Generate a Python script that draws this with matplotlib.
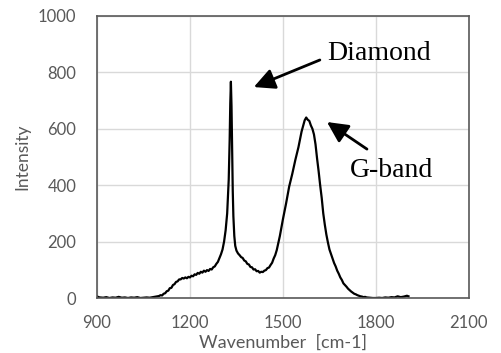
import matplotlib
matplotlib.use('Agg')
import matplotlib.pyplot as plt

# Raman spectrum
wavenumber = [900, 905, 910, 920, 930, 940, 950, 960, 970, 980, 990, 1000,
              1010, 1020, 1030, 1040, 1050, 1060, 1070, 1080, 1090,
              1100, 1105, 1110, 1115, 1120, 1125, 1130, 1135, 1140, 1145,
              1150, 1155, 1160, 1165, 1170, 1175, 1180, 1185, 1190, 1195,
              1200, 1205, 1210, 1215, 1220, 1225, 1230, 1235, 1240, 1245,
              1250, 1255, 1260, 1265, 1270, 1275, 1280, 1285, 1290, 1295,
              1300, 1305, 1310, 1315, 1320, 1325, 1328, 1330, 1332, 1334,
              1336, 1338, 1340, 1343, 1346,
              1350, 1355, 1360, 1365, 1370, 1375, 1380, 1385, 1390, 1395,
              1400, 1405, 1410, 1415, 1420, 1425, 1430, 1435, 1440, 1445,
              1450, 1455, 1460, 1465, 1470, 1475, 1480, 1490,
              1500, 1510, 1520, 1530, 1540, 1550, 1560, 1565, 1570, 1575,
              1580, 1585, 1590, 1595, 1600, 1605, 1610, 1615, 1620, 1625,
              1630, 1635, 1640, 1645, 1650, 1655, 1660, 1665, 1670, 1675,
              1680, 1685, 1690, 1695, 1700, 1705, 1710, 1715, 1720, 1725,
              1730, 1735, 1740, 1745, 1750, 1755, 1760, 1765, 1770, 1780,
              1790, 1800, 1810, 1820, 1830, 1840, 1850, 1860, 1870, 1880,
              1890, 1900, 1905]
intensity = [6, 3, 2, 1, 3, 0, 2, 1, 4, 1, 2, 0,
             2, 1, 3, 0, 1, 2, 1, 3, 5,
             7, 10, 9, 15, 17, 24, 26, 35, 36, 46,
             49, 57, 59, 66, 66, 71, 69, 73, 70, 75,
             73, 79, 77, 84, 82, 89, 86, 93, 90, 97,
             93, 99, 96, 103, 101, 109, 112, 121, 128, 142,
             155, 172, 200, 240, 300, 420, 560, 690, 767, 680,
             520, 380, 290, 220, 185,
             168, 158, 152, 145, 142, 133, 130, 121, 119, 110,
             109, 101, 102, 95, 96, 90, 93, 92, 97, 99,
             106, 108, 117, 125, 140, 152, 170, 220,
             280, 335, 395, 440, 490, 535, 590, 610, 630, 640,
             632, 628, 612, 600, 580, 545, 495, 450, 400, 355,
             300, 260, 225, 197, 172, 156, 140, 124, 112, 97,
             86, 73, 64, 52, 46, 40, 33, 28, 23, 19,
             15, 13, 10, 8, 6, 5, 3, 4, 2, 1,
             0, 0, 1, 0, 2, 1, 3, 2, 6, 3,
             5, 8, 6]

xticks = [900, 1200, 1500, 1800, 2100]
yticks = [0, 200, 400, 600, 800, 1000]

fig = plt.figure(figsize=(5.01, 3.53), dpi=100)
ax = fig.add_axes([0.1936, 0.1558, 0.7424, 0.7989])

ax.plot(wavenumber, intensity, color='black', lw=1.6)

ax.set_xlim(900, 2100)
ax.set_ylim(0, 1000)
ax.set_xticks(xticks)
ax.set_yticks(yticks)
ax.grid(True, color='#d9d9d9', lw=1)
ax.set_axisbelow(True)
for s in ax.spines.values():
    s.set_color('#595959')
    s.set_linewidth(1.2)
ax.tick_params(length=0, labelcolor='#595959', labelsize=12)
ax.tick_params(axis='y', pad=15)
ax.tick_params(axis='x', pad=12)
for lab in ax.get_xticklabels() + ax.get_yticklabels():
    lab.set_family('Lato')

ax.set_xlabel('Wavenumber  [cm-1]', family='Lato', color='#595959', fontsize=13, labelpad=3)
ax.set_ylabel('Intensity', family='Lato', color='#595959', fontsize=12.5, labelpad=5)

arrow = dict(arrowstyle='-|>,head_length=0.7,head_width=0.35', color='black',
             lw=2, mutation_scale=18, shrinkA=0, shrinkB=0)
ax.annotate('', xy=(1406, 748), xytext=(1619, 844), arrowprops=arrow)
ax.annotate('', xy=(1642, 624), xytext=(1771, 528), arrowprops=arrow)
ax.text(1642, 844, 'Diamond', family='Liberation Serif', fontsize=20, va='baseline')
ax.text(1716, 429, 'G-band', family='Liberation Serif', fontsize=20, va='baseline')

fig.savefig('out.png', dpi=100)
